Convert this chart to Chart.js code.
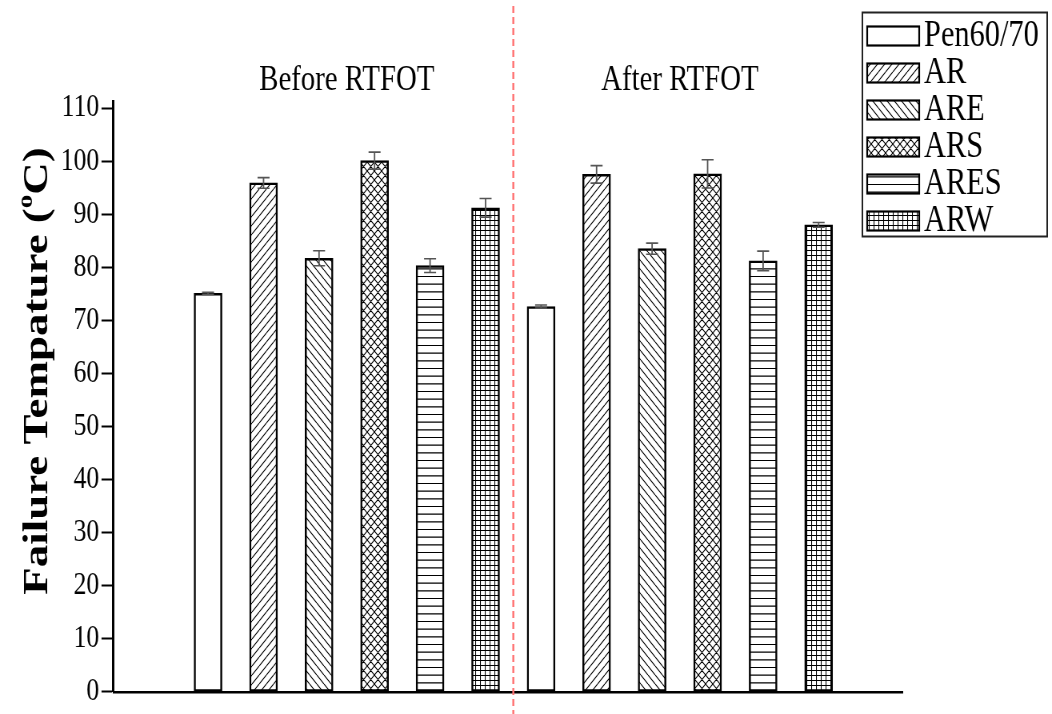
<!DOCTYPE html>
<html>
<head>
<meta charset="utf-8">
<script src="https://cdn.jsdelivr.net/npm/chart.js@4.4.1/dist/chart.umd.min.js"></script>
<style>
  html, body { margin: 0; padding: 0; background: #fff; overflow: hidden; }
  #wrap { position: relative; width: 1052px; height: 714px; overflow: hidden; background: #fff; }
  /* the figure is drawn on a wider canvas and narrowed horizontally */
  #c { position: absolute; left: 0; top: 0; transform: scaleX(0.8); transform-origin: 0 0; }
</style>
</head>
<body>
<div id="wrap"><canvas id="c" width="1315" height="714" style="width:1315px;height:714px"></canvas></div>
<script>
// binder types
const categories = ['Pen60/70', 'AR', 'ARE', 'ARS', 'ARES', 'ARW'];
const groups = ['Before RTFOT', 'After RTFOT'];
// failure temperature (°C) and standard deviation
const before    = [75.1, 95.9, 81.7, 100.1, 80.3, 91.2];
const beforeErr = [0.2, 1.0, 1.4, 1.6, 1.3, 1.75];
const after     = [72.6, 97.5, 83.5, 97.6, 81.2, 88.0];
const afterErr  = [0.3, 1.65, 1.05, 2.65, 1.85, 0.45];
const yTickValues = [0, 10, 20, 30, 40, 50, 60, 70, 80, 90, 100, 110];

const FONT = '"Liberation Serif", "Times New Roman", serif';
const canvas = document.getElementById('c');
const mainCtx = canvas.getContext('2d');

// hatch fills
function makePattern(kind) {
  let w = 9, h = 9;
  if (kind === 'h') { w = 8; h = 23; }
  if (kind === 'grid') { w = 6; h = 5; }
  const c = document.createElement('canvas');
  c.width = w; c.height = h;
  const g = c.getContext('2d');
  g.fillStyle = '#fff';
  g.fillRect(0, 0, w, h);
  g.strokeStyle = '#000';
  g.lineWidth = 1.1;
  g.beginPath();
  if (kind === '/' || kind === 'x') {
    for (const o of [-w, 0, w]) { g.moveTo(o, h); g.lineTo(o + w, 0); }
  }
  if (kind === '\\' || kind === 'x') {
    for (const o of [-w, 0, w]) { g.moveTo(o, 0); g.lineTo(o + w, h); }
  }
  if (kind === 'h') {
    for (const y of [0.5, 8.17, 15.83]) { g.moveTo(0, y); g.lineTo(w, y); }
  }
  if (kind === 'grid') {
    g.moveTo(0.5, 0); g.lineTo(0.5, h);
    g.moveTo(0, 0.5); g.lineTo(w, 0.5);
  }
  g.stroke();
  return mainCtx.createPattern(c, 'repeat');
}

const fills = ['#ffffff', makePattern('/'), makePattern('\\'), makePattern('x'), makePattern('h'), makePattern('grid')];

const n = categories.length;
const datasets = categories.map((name, k) => ({
  label: name,
  data: [
    { x: k + 1, y: before[k] },
    { x: k + 1 + n, y: after[k] }
  ],
  err: [beforeErr[k], afterErr[k]],
  backgroundColor: fills[k],
  borderColor: '#000',
  borderWidth: 2.5,
  borderSkipped: false,
  barThickness: 35,
  grouped: false
}));

// error bars on top of each bar
const errorBars = {
  id: 'errorBars',
  afterDatasetsDraw(chart) {
    const { ctx } = chart;
    const y = chart.scales.y;
    ctx.save();
    ctx.strokeStyle = '#555';
    chart.data.datasets.forEach((ds, di) => {
      const meta = chart.getDatasetMeta(di);
      meta.data.forEach((bar, i) => {
        const v = ds.data[i].y, e = ds.err[i];
        const yTop = y.getPixelForValue(v + e);
        const yBot = y.getPixelForValue(v - e);
        ctx.lineWidth = 1.8;
        ctx.beginPath();
        ctx.moveTo(bar.x, yTop); ctx.lineTo(bar.x, yBot);
        ctx.stroke();
        ctx.lineWidth = 1.6;
        ctx.beginPath();
        ctx.moveTo(bar.x - 7.5, yTop); ctx.lineTo(bar.x + 7.5, yTop);
        ctx.moveTo(bar.x - 7.5, yBot); ctx.lineTo(bar.x + 7.5, yBot);
        ctx.stroke();
      });
    });
    ctx.restore();
  }
};

// group divider, group captions, axis title and legend box
const decorations = {
  id: 'decorations',
  afterDraw(chart) {
    const { ctx } = chart;
    const xs = chart.scales.x;
    ctx.save();

    // dashed divider between the two groups
    const xDiv = xs.getPixelForValue(n + 0.5);
    ctx.strokeStyle = '#ff7474';
    ctx.lineWidth = 2.5;
    ctx.setLineDash([7, 4]);
    ctx.beginPath();
    ctx.moveTo(xDiv, 6); ctx.lineTo(xDiv, 714);
    ctx.stroke();
    ctx.setLineDash([]);

    // group captions
    ctx.fillStyle = '#000';
    ctx.font = '36px ' + FONT;
    ctx.textAlign = 'center';
    ctx.textBaseline = 'middle';
    groups.forEach((g, gi) => {
      const cx = xs.getPixelForValue(gi * n + (n + 1) / 2);
      ctx.fillText(g, cx, 81);
    });

    // y-axis title with superscript
    ctx.save();
    ctx.translate(47, 371);
    ctx.rotate(-Math.PI / 2);
    const big = 'bold 45px ' + FONT, small = 'bold 27px ' + FONT;
    ctx.font = big; const w1 = ctx.measureText('Failure Tempature (').width;
    const w3 = ctx.measureText('C)').width;
    ctx.font = small; const w2 = ctx.measureText('o').width;
    let sx = -(w1 + w2 + w3) / 2;
    ctx.textAlign = 'left';
    ctx.font = big; ctx.fillText('Failure Tempature (', sx, 0); sx += w1;
    ctx.font = small; ctx.fillText('o', sx, -14); sx += w2;
    ctx.font = big; ctx.fillText('C)', sx, 0);
    ctx.restore();

    // legend
    const rowGap = 37;
    ctx.strokeStyle = '#222';
    ctx.lineWidth = 2;
    ctx.strokeRect(1078, 12.5, 231, 224);
    ctx.font = '38px ' + FONT;
    ctx.textAlign = 'left';
    ctx.textBaseline = 'middle';
    chart.data.datasets.forEach((ds, i) => {
      const cy = 36 + i * rowGap;
      ctx.fillStyle = ds.backgroundColor;
      ctx.fillRect(1084, cy - 9.5, 65, 19);
      ctx.lineWidth = 2.2;
      ctx.strokeStyle = '#000';
      ctx.strokeRect(1084, cy - 9.5, 65, 19);
      ctx.fillStyle = '#000';
      ctx.fillText(ds.label, 1155, cy);
    });

    ctx.restore();
  }
};

new Chart(canvas, {
  type: 'bar',
  data: { datasets },
  options: {
    responsive: false,
    animation: false,
    devicePixelRatio: 1,
    layout: { padding: { top: 101.7, right: 186.25, bottom: 21.3, left: 0 } },
    plugins: { legend: { display: false }, tooltip: { enabled: false } },
    scales: {
      x: {
        type: 'linear',
        min: -0.703,
        max: 13.52,
        offset: false,
        grid: { display: false, offset: false },
        ticks: { display: false },
        border: { display: true, color: '#000', width: 2.5 },
        afterFit(s) { s.height = 0; }
      },
      y: {
        min: 0,
        max: 111.2,
        afterBuildTicks(s) { s.ticks = yTickValues.map(v => ({ value: v })); },
        ticks: { color: '#000', font: { family: FONT, size: 32 }, padding: 3 },
        grid: { drawOnChartArea: false, drawTicks: true, tickLength: 15, tickWidth: 2, tickColor: '#000' },
        border: { color: '#000', width: 3 },
        afterFit(s) { s.width = 141.9; }
      }
    }
  },
  plugins: [errorBars, decorations]
});
</script>
</body>
</html>
